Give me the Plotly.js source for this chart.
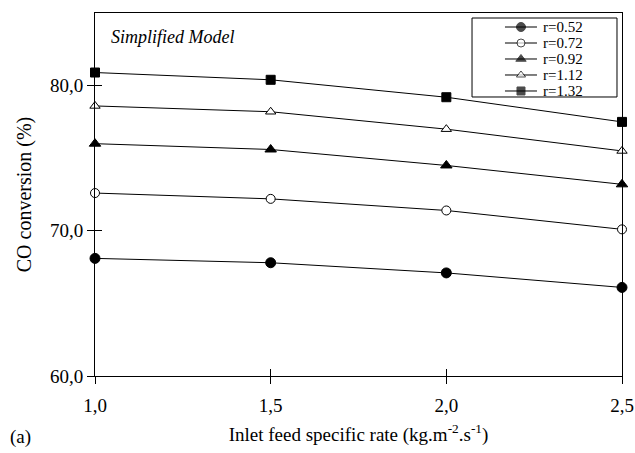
<!DOCTYPE html>
<html>
<head>
<meta charset="utf-8">
<script src="https://cdn.plot.ly/plotly-3.0.1.min.js"></script>
<style>html,body{margin:0;padding:0;background:#fff;}#chart{width:635px;height:453px;}</style>
</head>
<body>
<div id="chart"></div>
<script>
// ---- data ----
var feedRate = [1.0, 1.5, 2.0, 2.5];
var seriesNames = ["r=0.52", "r=0.72", "r=0.92", "r=1.12", "r=1.32"];
var conv_r052 = [68.1, 67.8, 67.1, 66.1];
var conv_r072 = [72.6, 72.2, 71.4, 70.1];
var conv_r092 = [76.0, 75.6, 74.5, 73.2];
var conv_r112 = [78.6, 78.2, 77.0, 75.5];
var conv_r132 = [80.9, 80.4, 79.2, 77.5];
var xTickVals = [1.0, 1.5, 2.0, 2.5];
var yTickVals = [60, 70, 80];

var seriesValues = [conv_r052, conv_r072, conv_r092, conv_r112, conv_r132];
var symbols = ["circle", "circle", "triangle-up", "triangle-up", "square"];
var fills = ["#000", "#fff", "#000", "#fff", "#000"];
var sizes = [10, 9, 10, 9, 9];
var serif = "Liberation Serif, Times New Roman, serif";

var traces = [];
seriesValues.forEach(function (vals, i) {
  traces.push({
    x: feedRate, y: vals, type: "scatter", mode: "lines+markers",
    name: seriesNames[i], showlegend: false, cliponaxis: false,
    line: {color: "#000", width: 1},
    marker: {symbol: symbols[i], size: sizes[i], color: fills[i], line: {color: "#000", width: 1}}
  });
});
// manual legend samples (row index = series index)
var annotations = [];
seriesValues.forEach(function (vals, i) {
  traces.push({
    x: [0, 1, 2], y: [i, i, i], xaxis: "x2", yaxis: "y2", type: "scatter",
    mode: "lines+markers", showlegend: false, hoverinfo: "skip", cliponaxis: false,
    line: {color: "#000", width: 1},
    marker: {symbol: symbols[i], size: [0, sizes[i] - 1, 0], color: fills[i], line: {color: "#000", width: [0, 1, 0]}}
  });
  annotations.push({
    xref: "x2", yref: "y2", x: 2.3, y: i, text: seriesNames[i], showarrow: false,
    xanchor: "left", yanchor: "middle", borderpad: 0,
    font: {family: serif, size: 15, color: "#000"}
  });
});
// overlay axes for ticks crossing the axis lines
traces.push({x: [], y: [], xaxis: "x3", yaxis: "y3", type: "scatter", showlegend: false});

annotations.push({
  xref: "paper", yref: "paper", x: 0.026, y: 0.934, xanchor: "left", yanchor: "middle",
  text: "<i>Simplified Model</i>", showarrow: false,
  font: {family: serif, size: 18, color: "#000"}
});
annotations.push({
  xref: "paper", yref: "paper", x: -0.165, y: -0.168, xanchor: "left", yanchor: "middle",
  text: "(a)", showarrow: false, font: {family: serif, size: 19, color: "#000"}
});

var layout = {
  width: 635, height: 453,
  margin: {l: 95, r: 13, t: 13, b: 77},
  paper_bgcolor: "#fff", plot_bgcolor: "#fff",
  separators: ",.",
  showlegend: false,
  font: {family: serif, size: 19, color: "#000"},
  xaxis: {
    range: [1.0, 2.5], tickvals: xTickVals, tickformat: ".1f",
    ticks: "outside", ticklen: 7, tickwidth: 1, tickcolor: "#000",
    ticklabelstandoff: 5,
    showline: true, linecolor: "#000", linewidth: 1, mirror: true,
    showgrid: false, zeroline: false,
    tickfont: {family: serif, size: 19},
    title: {text: "Inlet feed specific rate (kg.m<sup>-2</sup>.s<sup>-1</sup>)", font: {family: serif, size: 19}, standoff: 12}
  },
  yaxis: {
    range: [60, 85], tickvals: yTickVals, tickformat: ".1f",
    ticks: "outside", ticklen: 7, tickwidth: 1, tickcolor: "#000",
    showline: true, linecolor: "#000", linewidth: 1, mirror: true,
    showgrid: false, zeroline: false,
    tickfont: {family: serif, size: 19},
    title: {text: "CO conversion (%)", font: {family: serif, size: 20}, standoff: 12}
  },
  xaxis3: {overlaying: "x", anchor: "y3", range: [1.0, 2.5], tickvals: xTickVals, ticks: "inside", ticklen: 7,
    tickcolor: "#000", tickwidth: 1, showticklabels: false, showgrid: false, zeroline: false, showline: false},
  yaxis3: {overlaying: "y", anchor: "x3", range: [60, 85], tickvals: yTickVals, ticks: "inside", ticklen: 7,
    tickcolor: "#000", tickwidth: 1, showticklabels: false, showgrid: false, zeroline: false, showline: false},
  xaxis2: {domain: [0.7154, 0.9905], anchor: "y2", range: [-2.06, 7.0], visible: false, fixedrange: true},
  yaxis2: {domain: [0.7686, 0.9862], anchor: "x2", range: [4.375, -0.5625], visible: false, fixedrange: true},
  shapes: [{
    type: "rect", xref: "paper", yref: "paper", x0: 0.7154, x1: 0.9905, y0: 0.7686, y1: 0.9862,
    line: {color: "#000", width: 1}, fillcolor: "rgba(0,0,0,0)", layer: "above"
  }],
  annotations: annotations
};

Plotly.newPlot("chart", traces, layout, {displayModeBar: false, staticPlot: true});
</script>
</body>
</html>
